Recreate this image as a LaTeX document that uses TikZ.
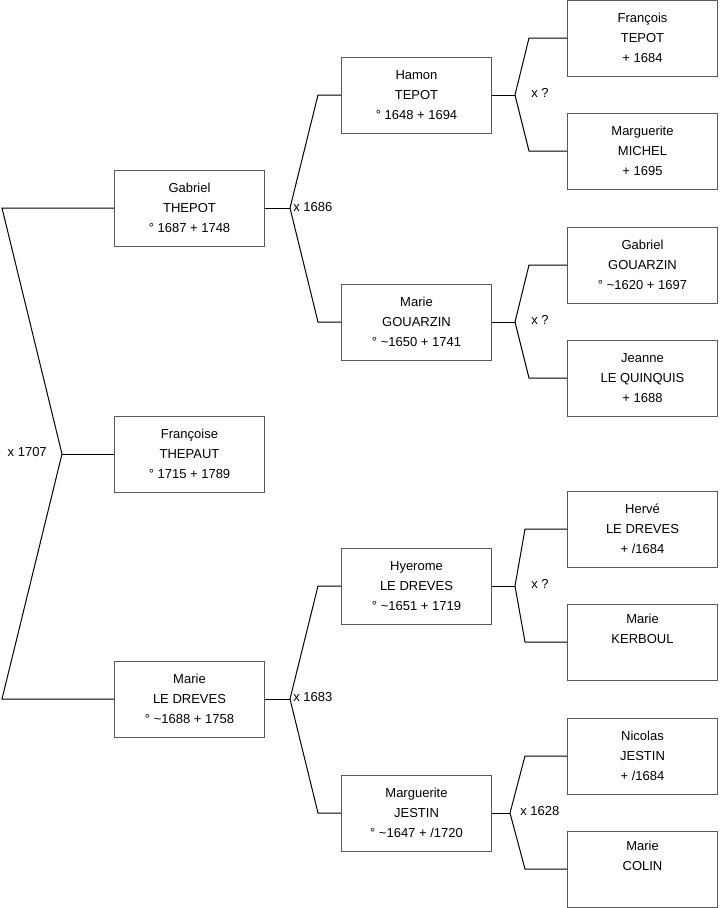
\documentclass[tikz,border=0pt]{standalone}
\usepackage{fontspec}
\setmainfont{Liberation Sans}
\usetikzlibrary{positioning}
\definecolor{frame}{RGB}{90,90,90}
\tikzset{
  person/.style={draw=frame,line width=0.75pt,minimum width=112.5pt,
    minimum height=57pt,inner sep=0pt,align=center,
    font=\fontsize{9.75}{15}\selectfont},
  link/.style={line width=0.75pt},
  union/.style={font=\fontsize{9.75}{11}\selectfont,inner sep=0pt},
}

\begin{document}
\begin{tikzpicture}[x=0.75pt,y=-0.75pt]
  \useasboundingbox (0,0) rectangle (719,908);
  % generation 1
  \node[person] (fra) at (189.5,454) {Françoise\\THEPAUT\\° 1715 + 1789};
  % generation 2
  \node[person] (gab) at (189.5,208) {Gabriel\\THEPOT\\° 1687 + 1748};
  \node[person] (mld) at (189.5,699) {Marie\\LE DREVES\\° \textasciitilde1688 + 1758};
  % generation 3
  \node[person] (ham) at (416.5,95) {Hamon\\TEPOT\\° 1648 + 1694};
  \node[person] (mgo) at (416.5,322) {Marie\\GOUARZIN\\° \textasciitilde1650 + 1741};
  \node[person] (hye) at (416.5,586) {Hyerome\\LE DREVES\\° \textasciitilde1651 + 1719};
  \node[person] (mje) at (416.5,813) {Marguerite\\JESTIN\\° \textasciitilde1647 + /1720};
  % generation 4
  \node[person] (fte) at (642.5,38) {François\\TEPOT\\+ 1684};
  \node[person] (mmi) at (642.5,151) {Marguerite\\MICHEL\\+ 1695};
  \node[person] (ggo) at (642.5,265) {Gabriel\\GOUARZIN\\° \textasciitilde1620 + 1697};
  \node[person] (jlq) at (642.5,378) {Jeanne\\LE QUINQUIS\\+ 1688};
  \node[person] (hld) at (642.5,529) {Hervé\\LE DREVES\\+ /1684};
  \node[person] (mke) at (642.5,642) {Marie\\KERBOUL\\\strut};
  \node[person] (nje) at (642.5,756) {Nicolas\\JESTIN\\+ /1684};
  \node[person] (mco) at (642.5,869) {Marie\\COLIN\\\strut};

  % junctions
  \coordinate (j1) at (62,454);
  \coordinate (j1a) at (2,208);
  \coordinate (j1b) at (2,699);
  \coordinate (j2) at (290,208);
  \coordinate (j2a) at (318,95);
  \coordinate (j2b) at (318,322);
  \coordinate (j3) at (290,699);
  \coordinate (j3a) at (318,586);
  \coordinate (j3b) at (318,813);
  \coordinate (j4) at (515,95);
  \coordinate (j4a) at (529,38);
  \coordinate (j4b) at (529,151);
  \coordinate (j5) at (515,322);
  \coordinate (j5a) at (529,265);
  \coordinate (j5b) at (529,378);
  \coordinate (j6) at (515,586);
  \coordinate (j6a) at (525,529);
  \coordinate (j6b) at (525,642);
  \coordinate (j7) at (510,813);
  \coordinate (j7a) at (525,756);
  \coordinate (j7b) at (525,869);

  \draw[link] (fra.west) -- (j1);
  \draw[link] (j1) -- (j1a) -- (gab.west);
  \draw[link] (j1) -- (j1b) -- (mld.west);
  \draw[link] (gab.east) -- (j2);
  \draw[link] (j2) -- (j2a) -- (ham.west);
  \draw[link] (j2) -- (j2b) -- (mgo.west);
  \draw[link] (mld.east) -- (j3);
  \draw[link] (j3) -- (j3a) -- (hye.west);
  \draw[link] (j3) -- (j3b) -- (mje.west);
  \draw[link] (ham.east) -- (j4);
  \draw[link] (j4) -- (j4a) -- (fte.west);
  \draw[link] (j4) -- (j4b) -- (mmi.west);
  \draw[link] (mgo.east) -- (j5);
  \draw[link] (j5) -- (j5a) -- (ggo.west);
  \draw[link] (j5) -- (j5b) -- (jlq.west);
  \draw[link] (hye.east) -- (j6);
  \draw[link] (j6) -- (j6a) -- (hld.west);
  \draw[link] (j6) -- (j6b) -- (mke.west);
  \draw[link] (mje.east) -- (j7);
  \draw[link] (j7) -- (j7a) -- (nje.west);
  \draw[link] (j7) -- (j7b) -- (mco.west);

  % marriages
  \node[union,anchor=east] (u1) at (47,452) {x 1707};
  \node[union,anchor=west] (u2) at (293,207) {x 1686};
  \node[union,anchor=west] (u3) at (293,697) {x 1683};
  \node[union,anchor=west] (u4) at (531,93) {x ?};
  \node[union,anchor=west] (u5) at (531,320) {x ?};
  \node[union,anchor=west] (u6) at (531,584) {x ?};
  \node[union,anchor=west] (u7) at (520,811) {x 1628};
\end{tikzpicture}
\end{document}
